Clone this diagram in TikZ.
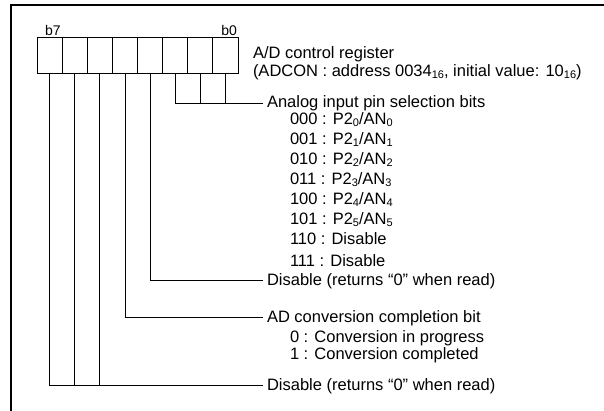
\documentclass[tikz,border=0pt]{standalone}
\usepackage{fontspec}
\setmainfont{Liberation Sans}
\newcommand{\lo}[1]{\raisebox{-0.2ex}{\fontsize{11}{11}\selectfont #1}}

\begin{document}
\begin{tikzpicture}[x=1pt,y=-1pt]
\tikzstyle{every node}=[inner sep=0pt, outer sep=0pt, font=\fontsize{16.5}{20}\selectfont]
\tikzstyle{cell}=[rectangle, draw, line width=.8pt, minimum width=25.125pt, minimum height=36pt]
\tikzstyle{lbl}=[anchor=west, inner sep=4pt, text height=11pt, text depth=1pt]
\tikzstyle{item}=[anchor=west, text height=11pt, text depth=1pt]
\tikzstyle{wire}=[line width=.8pt]
\useasboundingbox (0,0) rectangle (604,411);
\draw[line width=1.6pt] (11,411) -- (11,5) -- (604,5);

% register cells, b7 on the left
\foreach \i in {0,...,7} {
  \pgfmathtruncatemacro{\b}{7-\i}
  \draw (49.56+\i*25.125,55) node (c\b) [cell] {};
}
\draw (45,36) node (t7) [anchor=base west, font=\fontsize{14}{14}\selectfont] {b7};
\draw (237,36) node (t0) [anchor=base east, font=\fontsize{14}{14}\selectfont] {b0};
\draw (253,59) node (reg) [anchor=base west] {A/D control register};
\draw (253,77) node (adr) [anchor=base west] {(ADCON : address 0034\lo{16}, initial value: 10\lo{16})};

% bits 2-0
\draw (263,103) node (sel) [lbl] {Analog input pin selection bits};
\draw[wire] (c2.south) |- (sel.west);
\draw[wire] (c1.south) -- (c1.south |- sel.west);
\draw[wire] (c0.south) -- (c0.south |- sel.west);
\foreach \code [count=\n from 0] in {000,001,010,011,100,101}
  \draw (290,120+\n*20) node (p\n) [item] {\code{} : P2\lo{\n}/AN\lo{\n}};
\draw (290,240) node (p6) [item] {110 : Disable};
\draw (290,261) node (p7) [item] {111 : Disable};

% bit 3
\draw (263,280) node (dis3) [lbl] {Disable (returns “0” when read)};
\draw[wire] (c3.south) |- (dis3.west);

% bit 4
\draw (263,317) node (adc) [lbl] {AD conversion completion bit};
\draw[wire] (c4.south) |- (adc.west);
\draw (290,337) node (adc0) [item] {0 : Conversion in progress};
\draw (290,354) node (adc1) [item] {1 : Conversion completed};

% bits 7-5
\draw (263,385) node (dis7) [lbl] {Disable (returns “0” when read)};
\draw[wire] (c7.south) |- (dis7.west);
\draw[wire] (c6.south) -- (c6.south |- dis7.west);
\draw[wire] (c5.south) -- (c5.south |- dis7.west);
\end{tikzpicture}
\end{document}
